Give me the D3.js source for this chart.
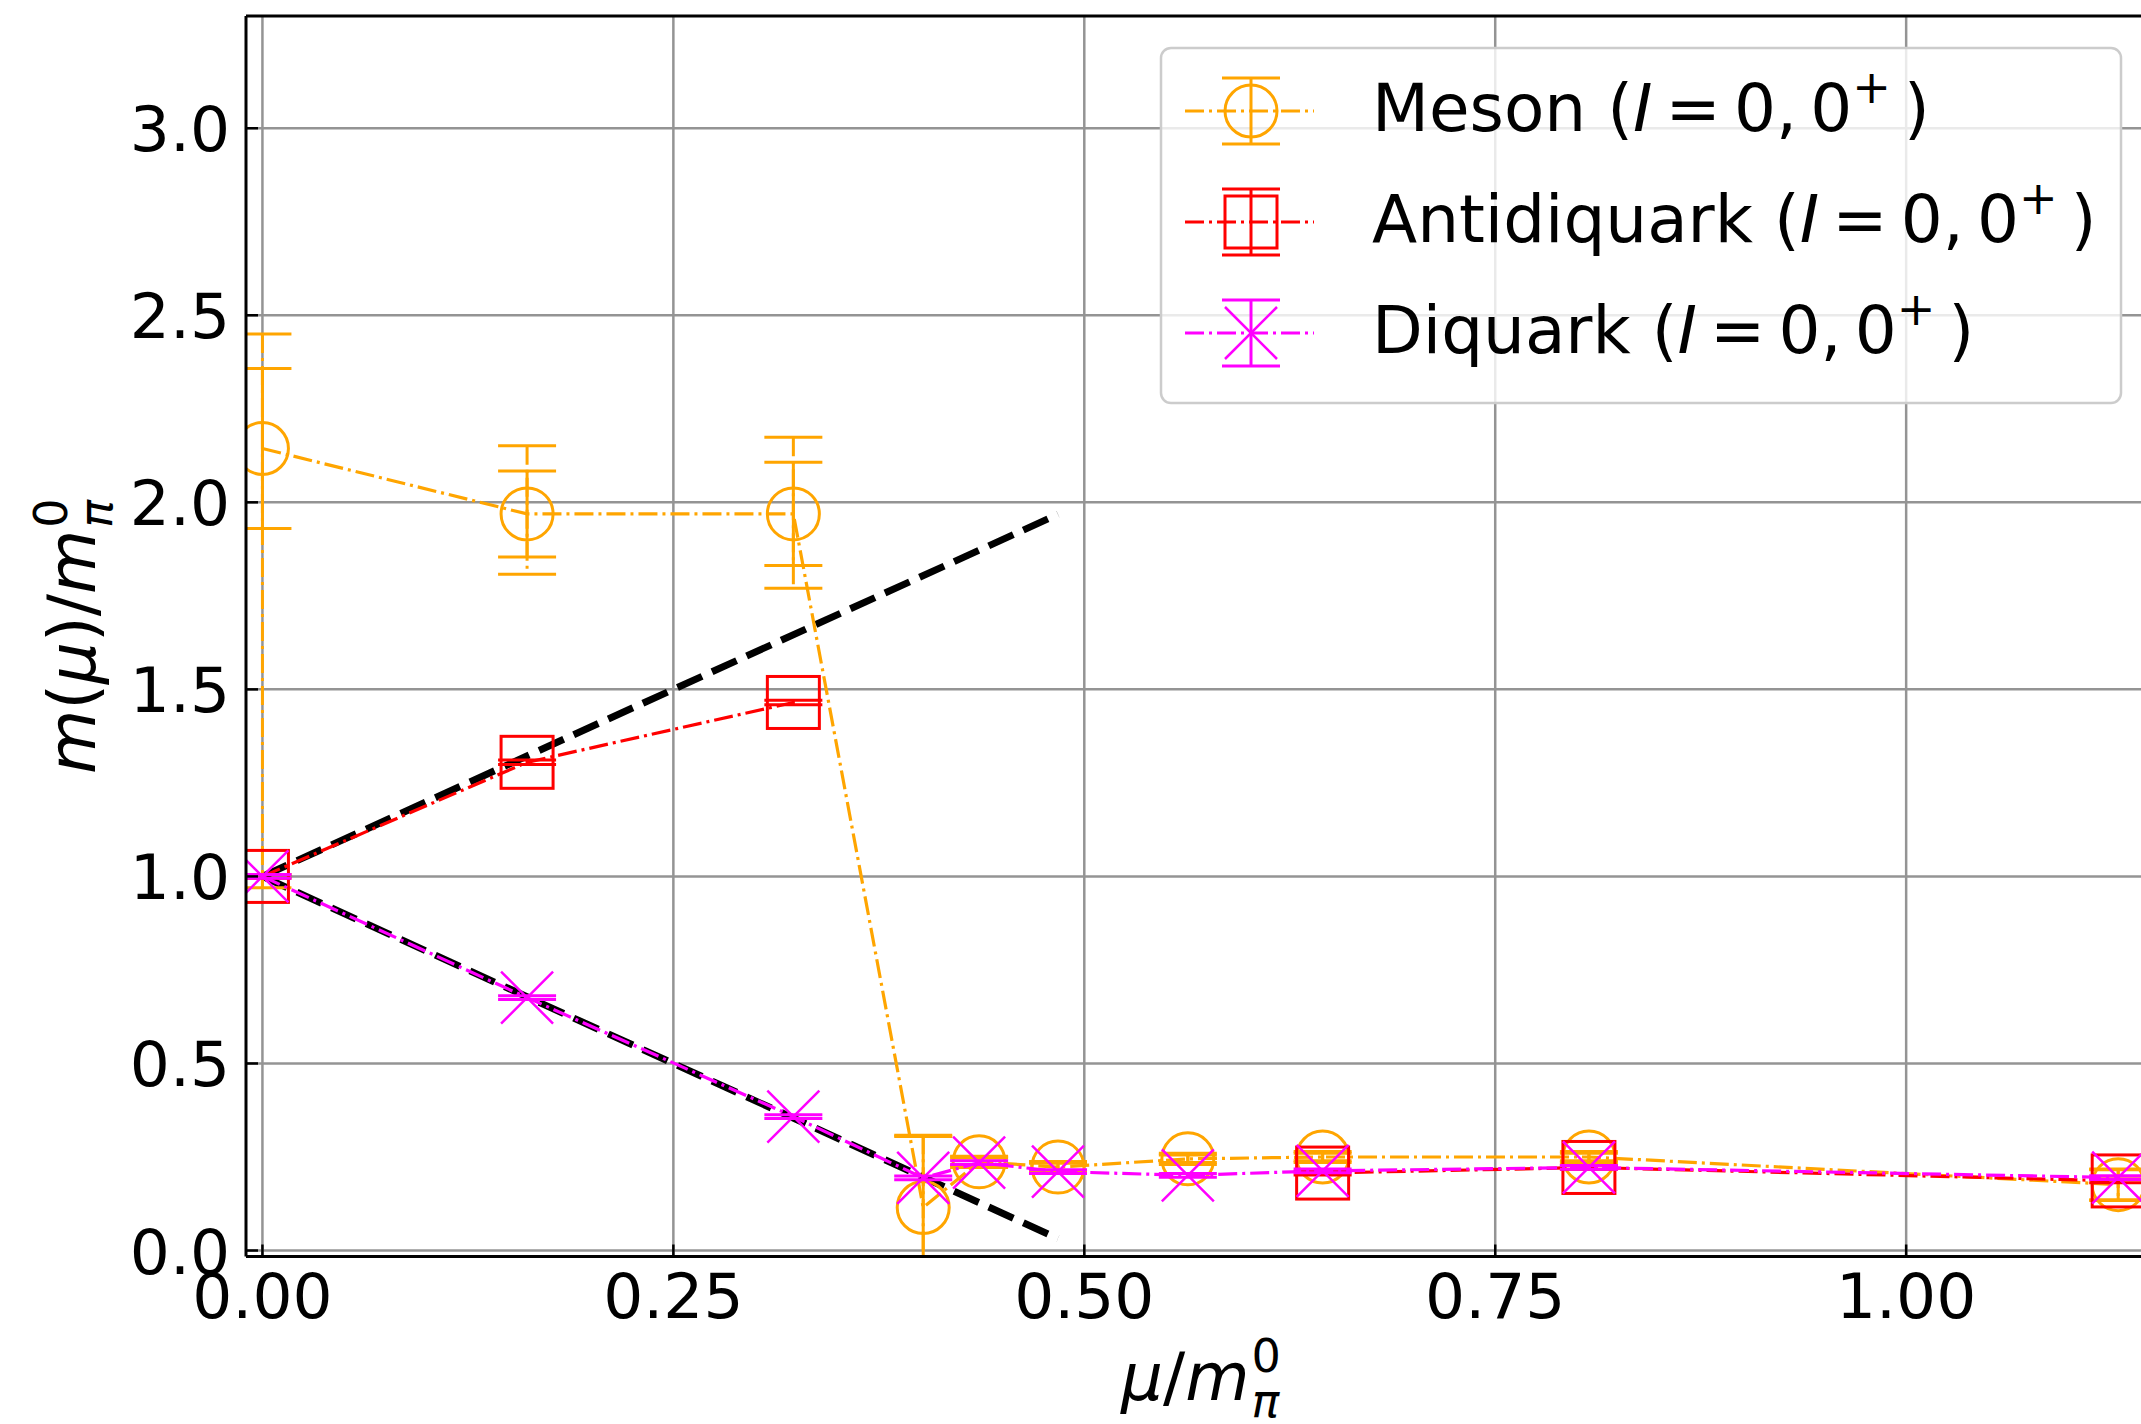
<!DOCTYPE html>
<html>
<head>
<meta charset="utf-8">
<script src="https://cdn.jsdelivr.net/npm/d3@7"></script>
<style>
  body { margin: 0; background: #fff; }
  text { font-family: "DejaVu Sans", sans-serif; fill: #000; }
</style>
</head>
<body>
<svg id="chart"></svg>
<script>
// chemical potential values (mu / m_pi^0) shared by the series
var muPts = [0, 0.161, 0.323, 0.402, 0.436, 0.484, 0.563, 0.645, 0.807, 1.129];

// meson (I=0, 0+) : value, inner (solid) error, outer (dash-dot) error
var mesonVals   = [2.144, 1.969, 1.969, 0.115, 0.237, 0.223, 0.245, 0.250, 0.250, 0.176];
var mesonErrIn  = [0.214, 0.115, 0.138, 0.190, 0.010, 0.010, 0.010, 0.010, 0.010, 0.040];
var mesonErrUp  = [0.306, 0.182, 0.205, 0.193, 0.015, 0.015, 0.015, 0.015, 0.015, 0.042];
var mesonErrDn  = [1.174, 0.161, 0.199, 0.200, 0.015, 0.015, 0.015, 0.015, 0.015, 0.042];

// antidiquark (I=0, 0+), null = no point
var antiVals = [1.000, 1.305, 1.465, null, null, null, null, 0.207, 0.222, 0.186];
var antiErr  = [0.005, 0.006, 0.006, null, null, null, null, 0.005, 0.005, 0.005];

// diquark (I=0, 0+)
var diqVals = [1.000, 0.676, 0.358, 0.194, 0.235, 0.211, 0.201, 0.213, 0.222, 0.195];
var diqErr  = [0.005, 0.005, 0.005, 0.005, 0.005, 0.005, 0.005, 0.005, 0.005, 0.005];

// black dashed reference lines m = m_pi +/- 2 mu
var refMu    = [0, 0.484];
var refUpper = [1.0, 1.968];
var refLower = [1.0, 0.032];

// axis ticks
var xTicks = [0, 0.25, 0.5, 0.75, 1.0];
var yTicks = [0, 0.5, 1.0, 1.5, 2.0, 2.5, 3.0];

var W = 2141, H = 1424;
var svg = d3.select("#chart").attr("width", W).attr("height", H);

// plot area edges (right spine lies just past the picture edge)
var pL = 246, pR = 2156, pT = 16, pB = 1256.5;
var x = d3.scaleLinear().domain([-0.01, 1.152]).range([pL, pR]);
var y = d3.scaleLinear().domain([-0.016, 3.30]).range([pB, pT]);

var ORANGE = "#ffa500", RED = "#ff0000", MAGENTA = "#ff00ff";
var DASHDOT = "19,5,3,5";
var tickFont = 63, labelFont = 66;

svg.append("defs").append("clipPath").attr("id", "clip")
  .append("rect").attr("x", pL).attr("y", pT)
  .attr("width", pR - pL).attr("height", pB - pT);

// grid
var grid = svg.append("g");
grid.selectAll(".gx").data(xTicks).enter().append("line")
  .attr("x1", d => x(d)).attr("x2", d => x(d))
  .attr("y1", pT).attr("y2", pB)
  .attr("stroke", "#949494").attr("stroke-width", 2.5);
grid.selectAll(".gy").data(yTicks).enter().append("line")
  .attr("x1", pL).attr("x2", pR)
  .attr("y1", d => y(d)).attr("y2", d => y(d))
  .attr("stroke", "#949494").attr("stroke-width", 2.5);

var plot = svg.append("g").attr("clip-path", "url(#clip)");

// reference lines
var refLine = d3.line().x(d => x(d[0])).y(d => y(d[1]));
[refUpper, refLower].forEach(function(vals){
  plot.append("path")
    .datum(refMu.map((m, i) => [m, vals[i]]))
    .attr("d", refLine)
    .attr("fill", "none").attr("stroke", "#000")
    .attr("stroke-width", 7).attr("stroke-dasharray", "27,11");
});

// draw one error bar (vertical line + caps)
function errBar(g, px, y0, y1, color, dash){
  g.append("line").attr("x1", px).attr("x2", px).attr("y1", y0).attr("y2", y1)
    .attr("stroke", color).attr("stroke-width", 3)
    .attr("stroke-dasharray", dash ? DASHDOT : null);
  [y0, y1].forEach(function(cy){
    g.append("line").attr("x1", px - 29).attr("x2", px + 29)
      .attr("y1", cy).attr("y2", cy)
      .attr("stroke", color).attr("stroke-width", 3);
  });
}

function marker(g, type, px, py, color){
  var r = 26;
  if(type == "circle"){
    g.append("circle").attr("cx", px).attr("cy", py).attr("r", r)
      .attr("fill", "none").attr("stroke", color).attr("stroke-width", 3);
  } else if(type == "square"){
    g.append("rect").attr("x", px - r).attr("y", py - r)
      .attr("width", 2 * r).attr("height", 2 * r)
      .attr("fill", "none").attr("stroke", color).attr("stroke-width", 3);
  } else {
    g.append("path")
      .attr("d", "M" + (px - r) + "," + (py - r) + "L" + (px + r) + "," + (py + r) +
                 "M" + (px - r) + "," + (py + r) + "L" + (px + r) + "," + (py - r))
      .attr("stroke", color).attr("stroke-width", 2.5);
  }
}

function drawSeries(vals, errUp, errDn, errIn, color, type){
  var g = plot.append("g");
  muPts.forEach(function(m, i){
    if(vals[i] == null) return;
    if(errUp) errBar(g, x(m), y(vals[i] + errUp[i]), y(vals[i] - errDn[i]), color, true);
    errBar(g, x(m), y(vals[i] + errIn[i]), y(vals[i] - errIn[i]), color, false);
  });
  var line = d3.line()
    .defined((d, i) => vals[i] != null)
    .x((d, i) => x(muPts[i]))
    .y((d, i) => y(vals[i]));
  g.append("path").datum(vals).attr("d", line)
    .attr("fill", "none").attr("stroke", color)
    .attr("stroke-width", 3.2).attr("stroke-dasharray", DASHDOT);
  muPts.forEach(function(m, i){
    if(vals[i] == null) return;
    marker(g, type, x(m), y(vals[i]), color);
  });
}

drawSeries(mesonVals, mesonErrUp, mesonErrDn, mesonErrIn, ORANGE, "circle");
drawSeries(antiVals, null, null, antiErr, RED, "square");
drawSeries(diqVals, null, null, diqErr, MAGENTA, "x");

// spines and inward ticks
var axes = svg.append("g");
[[pL, pT, pL, pB], [pL, pB, pR, pB], [pL, pT, pR, pT], [pR, pT, pR, pB]].forEach(function(s){
  axes.append("line").attr("x1", s[0]).attr("y1", s[1]).attr("x2", s[2]).attr("y2", s[3])
    .attr("stroke", "#000").attr("stroke-width", 3);
});

yTicks.forEach(function(t){
  axes.append("line").attr("x1", pL).attr("x2", pL + 12)
    .attr("y1", y(t)).attr("y2", y(t)).attr("stroke", "#000").attr("stroke-width", 2.5);
  axes.append("text").attr("x", 230).attr("y", y(t) + 23)
    .attr("text-anchor", "end").attr("font-size", tickFont)
    .text(d3.format(".1f")(t));
});
xTicks.forEach(function(t){
  axes.append("line").attr("x1", x(t)).attr("x2", x(t))
    .attr("y1", pB).attr("y2", pB - 12).attr("stroke", "#000").attr("stroke-width", 2.5);
  axes.append("text").attr("x", x(t)).attr("y", 1318)
    .attr("text-anchor", "middle").attr("font-size", tickFont)
    .text(d3.format(".2f")(t));
});

// math-ish label: base parts, then stacked sub and sup
function mathLabel(parent, parts, sub, sup, size){
  var g = parent.append("g");
  var t = g.append("text").attr("font-size", size);
  parts.forEach(function(p){
    t.append("tspan").attr("font-style", p.it ? "italic" : "normal").text(p.t);
  });
  var w = t.node().getComputedTextLength();
  var s1 = g.append("text").attr("x", w + 2).attr("y", size * 0.25)
    .attr("font-size", size * 0.7).attr("font-style", "italic").text(sub);
  var s2 = g.append("text").attr("x", w + 2).attr("y", -size * 0.42)
    .attr("font-size", size * 0.7).text(sup);
  var total = w + 2 + Math.max(s1.node().getComputedTextLength(), s2.node().getComputedTextLength());
  g.selectAll("text").attr("transform", "translate(" + (-total / 2) + ",0)");
  return g;
}

mathLabel(svg, [{t: "μ", it: true}, {t: "/"}, {t: "m", it: true}], "π", "0", labelFont)
  .attr("transform", "translate(" + ((pL + pR) / 2) + ",1400)");

mathLabel(svg, [{t: "m", it: true}, {t: "("}, {t: "μ", it: true}, {t: ")/"}, {t: "m", it: true}], "π", "0", labelFont)
  .attr("transform", "translate(95," + ((pT + pB) / 2) + ") rotate(-90)");

// legend
var legendNames = ["Meson", "Antidiquark", "Diquark"];
var legendColors = [ORANGE, RED, MAGENTA];
var legendTypes = ["circle", "square", "x"];

var leg = svg.append("g");
leg.append("rect").attr("x", 1161).attr("y", 48).attr("width", 960).attr("height", 355)
  .attr("rx", 10).attr("fill", "#fff").attr("fill-opacity", 0.8)
  .attr("stroke", "#cccccc").attr("stroke-width", 2.5);

legendNames.forEach(function(name, i){
  var cy = 111 + i * 111;
  var c = legendColors[i];
  leg.append("line").attr("x1", 1185).attr("x2", 1314).attr("y1", cy).attr("y2", cy)
    .attr("stroke", c).attr("stroke-width", 3.2).attr("stroke-dasharray", DASHDOT);
  errBar(leg, 1251, cy - 33, cy + 33, c, false);
  marker(leg, legendTypes[i], 1251, cy, c);
  var t = leg.append("text").attr("x", 1372).attr("y", cy + 20).attr("font-size", labelFont);
  t.append("tspan").text(name + " (");
  t.append("tspan").attr("font-style", "italic").text("I");
  t.append("tspan").text("\u2009=\u20090,\u20090");
  t.append("tspan").attr("dy", -28).attr("font-size", labelFont * 0.7).text("+");
  t.append("tspan").attr("dy", 28).text("\u2009)");
});
</script>
</body>
</html>
